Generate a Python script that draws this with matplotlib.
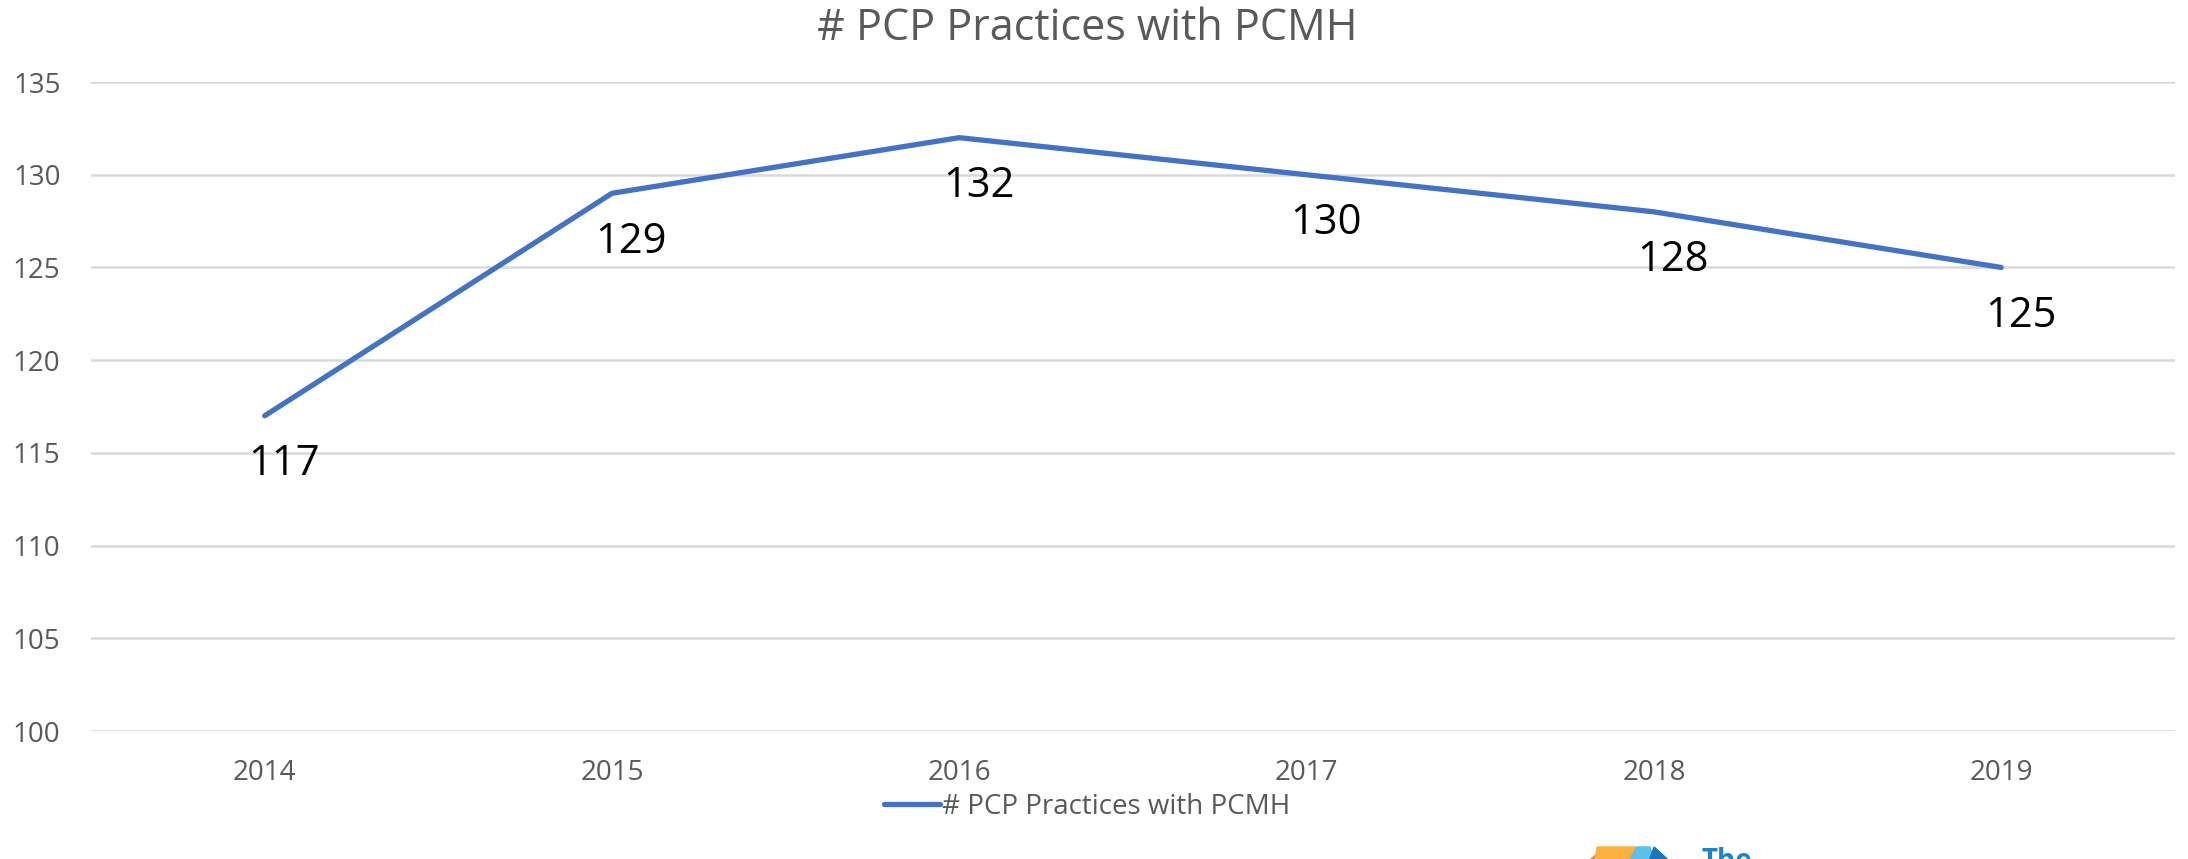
import matplotlib.pyplot as plt
from matplotlib.patches import Polygon

# data
years = ["2014", "2015", "2016", "2017", "2018", "2019"]
practices = [117, 129, 132, 130, 128, 125]
series_name = "# PCP Practices with PCMH"

plt.rcParams['font.family'] = ['Open Sans', 'DejaVu Sans']

fig = plt.figure(figsize=(21.88, 8.59), dpi=100)
ax = fig.add_axes([0.0416, 0.149, 0.9524, 0.7555])

x = list(range(len(years)))
line, = ax.plot(x, practices, color='#4472C4', lw=3.8, solid_capstyle='round',
                label=series_name, zorder=3)

# data labels (below the points)
for xi, v in zip(x, practices):
    ax.annotate(str(v), (xi, v), xytext=(14, -35), textcoords='offset points',
                ha='center', va='center', fontsize=30, color='black')

ax.set_xlim(-0.5, len(years) - 0.5)
ax.set_ylim(100, 135)
ax.set_yticks(range(100, 136, 5))
ax.set_xticks(x)
ax.set_xticklabels(years)
ax.grid(axis='y', color='#D9D9D9', lw=1.8)
ax.set_axisbelow(True)
for s in ax.spines.values():
    s.set_visible(False)
ax.tick_params(length=0, labelsize=20, colors='#595959')
ax.tick_params(axis='y', pad=22)
ax.tick_params(axis='x', pad=20)

fig.text(0.497, 0.966, series_name, ha='center', va='center', fontsize=31, color='#595959')

fig.legend(handles=[line], loc='center', bbox_to_anchor=(0.497, 0.061), frameon=False,
           fontsize=20, labelcolor='#595959', handlelength=2.0, handletextpad=0.1)

# partial logo in the bottom right corner
logo = [
    ([(0.7267, 0.0), (0.7330, 0.0), (0.7330, 0.014)], '#F58220'),
    ([(0.7290, 0.0), (0.7450, 0.0), (0.7480, 0.014), (0.7300, 0.014)], '#FBB040'),
    ([(0.7450, 0.0), (0.7560, 0.0), (0.7540, 0.014), (0.7480, 0.014)], '#5BC0EB'),
    ([(0.7540, 0.0), (0.7620, 0.0), (0.7560, 0.014)], '#1B75BB'),
]
for pts, c in logo:
    fig.patches.append(Polygon(pts, closed=True, color=c, transform=fig.transFigure))
fig.text(0.7775, 0.0145, "The", ha='left', va='top', fontsize=20, fontweight='bold',
         color='#1B85C8')

fig.savefig('out.png', dpi=100)
